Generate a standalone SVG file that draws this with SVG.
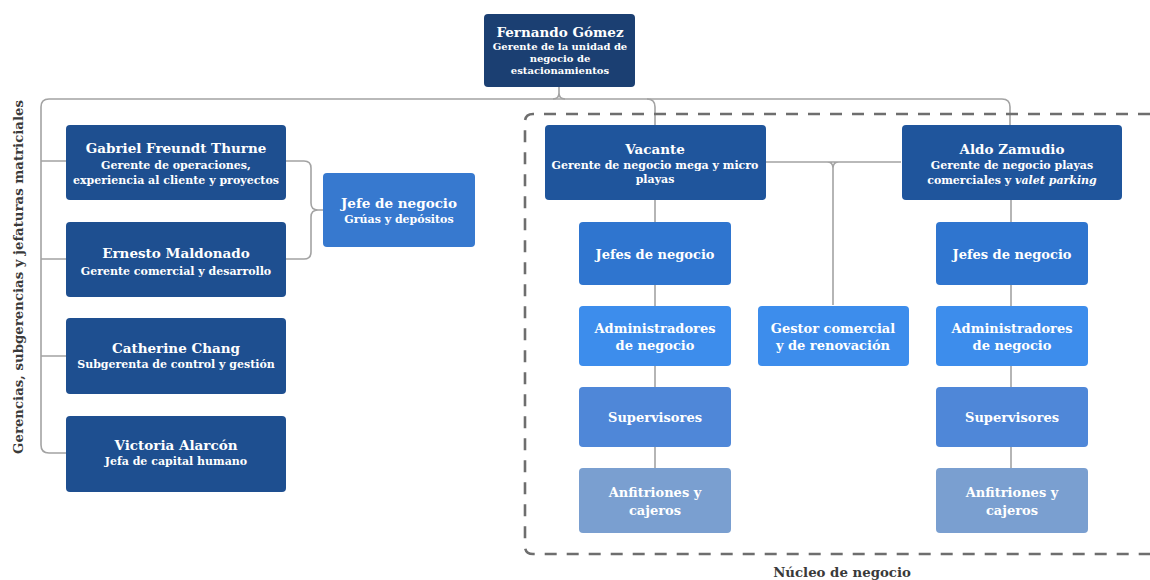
<svg xmlns="http://www.w3.org/2000/svg" width="1150" height="580" viewBox="0 0 1150 580">
<style>
.t{font-family:"DejaVu Serif","Liberation Serif",serif;font-weight:bold;fill:#fff;text-anchor:middle}
.h{font-size:13.5px}
.s{font-size:11px}
.f{font-size:10px}
.m{font-size:13px}
.c{fill:none;stroke:#a3a3a3;stroke-width:1.6}
.lbl{font-family:"DejaVu Serif","Liberation Serif",serif;font-weight:bold;fill:#3a3a3a;text-anchor:middle;font-size:13.3px}
</style>
<rect width="1150" height="580" fill="#fff"/>
<g id="connectors">
<path class="c" d="M559,87 V93 Q559,99 553,99 M559,93 Q559,99 565,99"/>
<path class="c" d="M66,453 H49 Q41,453 41,445 V107 Q41,99 49,99 H1002 Q1010,99 1010,107 V125"/>
<path class="c" d="M41,161 H66 M41,259 H66 M41,356 H66"/>
<path class="c" d="M647,99 Q655,99 655,107 V125"/>
<path class="c" d="M286,161 H304 Q311,161 311,168 V203 Q311,210 318,210 H323 M286,259 H304 Q311,259 311,252 V217 Q311,210 318,210"/>
<path class="c" d="M766,162 H901 M827,162 Q833,162 833,168 V305 M839,162 Q833,162 833,168"/>
<path class="c" d="M655,200 V468 M1011,200 V468"/>
<path fill="none" stroke="#6e6e6e" stroke-width="2.6" stroke-dasharray="12,10" d="M1150,114 H533 Q525,114 525,122 V546 Q525,554 533,554 H1150"/>
</g>
<g id="fernando">
<rect x="484" y="14" width="151" height="73" rx="4" fill="#1b3f72"/>
<text class="t h" x="560" y="37">Fernando Gómez</text>
<text class="t f" x="560" y="50">Gerente de la unidad de</text>
<text class="t f" x="560" y="62">negocio de</text>
<text class="t f" x="560" y="74">estacionamientos</text>
</g>
<g id="gabriel">
<rect x="66" y="125" width="220" height="75" rx="4" fill="#1e4f90"/>
<text class="t h" x="176" y="153">Gabriel Freundt Thurne</text>
<text class="t s" x="176" y="169">Gerente de operaciones,</text>
<text class="t s" x="176" y="184">experiencia al cliente y proyectos</text>
</g>
<g id="ernesto">
<rect x="66" y="222" width="220" height="75" rx="4" fill="#1e4f90"/>
<text class="t h" x="176" y="258">Ernesto Maldonado</text>
<text class="t s" x="176" y="275">Gerente comercial y desarrollo</text>
</g>
<g id="catherine">
<rect x="66" y="318" width="220" height="76" rx="4" fill="#1e4f90"/>
<text class="t h" x="176" y="353">Catherine Chang</text>
<text class="t s" x="176" y="368">Subgerenta de control y gestión</text>
</g>
<g id="victoria">
<rect x="66" y="416" width="220" height="76" rx="4" fill="#1e4f90"/>
<text class="t h" x="176" y="450">Victoria Alarcón</text>
<text class="t s" x="176" y="465">Jefa de capital humano</text>
</g>
<g id="jefe-gruas">
<rect x="323" y="173" width="152" height="74" rx="4" fill="#3779cf"/>
<text class="t h" x="399" y="208">Jefe de negocio</text>
<text class="t s" x="399" y="223">Grúas y depósitos</text>
</g>
<g id="vacante">
<rect x="545" y="125" width="221" height="75" rx="4" fill="#1f559c"/>
<text class="t h" x="655" y="154">Vacante</text>
<text class="t s" x="655" y="169">Gerente de negocio mega y micro</text>
<text class="t s" x="655" y="183">playas</text>
</g>
<g id="aldo">
<rect x="902" y="125" width="220" height="75" rx="4" fill="#1f559c"/>
<text class="t h" x="1012" y="154">Aldo Zamudio</text>
<text class="t s" x="1012" y="169">Gerente de negocio playas</text>
<text class="t s" x="1012" y="184">comerciales y <tspan font-style="italic">valet parking</tspan></text>
</g>
<g id="jefes-izq">
<rect x="579" y="222" width="152" height="63" rx="4" fill="#2f75cf"/>
<text class="t m" x="655" y="259">Jefes de negocio</text>
</g>
<g id="admin-izq">
<rect x="579" y="306" width="152" height="60" rx="4" fill="#3d8dec"/>
<text class="t m" x="655" y="333">Administradores</text>
<text class="t m" x="655" y="350">de negocio</text>
</g>
<g id="super-izq">
<rect x="579" y="387" width="152" height="60" rx="4" fill="#4f87d8"/>
<text class="t m" x="655" y="422">Supervisores</text>
</g>
<g id="anfi-izq">
<rect x="579" y="468" width="152" height="65" rx="4" fill="#7a9fd0"/>
<text class="t m" x="655" y="497">Anfitriones y</text>
<text class="t m" x="655" y="515">cajeros</text>
</g>
<g id="gestor">
<rect x="758" y="306" width="151" height="60" rx="4" fill="#3d8dec"/>
<text class="t m" x="833" y="333">Gestor comercial</text>
<text class="t m" x="833" y="350">y de renovación</text>
</g>
<g id="jefes-der">
<rect x="936" y="222" width="152" height="63" rx="4" fill="#2f75cf"/>
<text class="t m" x="1012" y="259">Jefes de negocio</text>
</g>
<g id="admin-der">
<rect x="936" y="306" width="152" height="60" rx="4" fill="#3d8dec"/>
<text class="t m" x="1012" y="333">Administradores</text>
<text class="t m" x="1012" y="350">de negocio</text>
</g>
<g id="super-der">
<rect x="936" y="387" width="152" height="60" rx="4" fill="#4f87d8"/>
<text class="t m" x="1012" y="422">Supervisores</text>
</g>
<g id="anfi-der">
<rect x="936" y="468" width="152" height="65" rx="4" fill="#7a9fd0"/>
<text class="t m" x="1012" y="497">Anfitriones y</text>
<text class="t m" x="1012" y="515">cajeros</text>
</g>
<g id="labels">
<text class="lbl" x="842" y="577">Núcleo de negocio</text>
<text class="lbl" transform="translate(23,277) rotate(-90)">Gerencias, subgerencias y jefaturas matriciales</text>
</g>
</svg>
